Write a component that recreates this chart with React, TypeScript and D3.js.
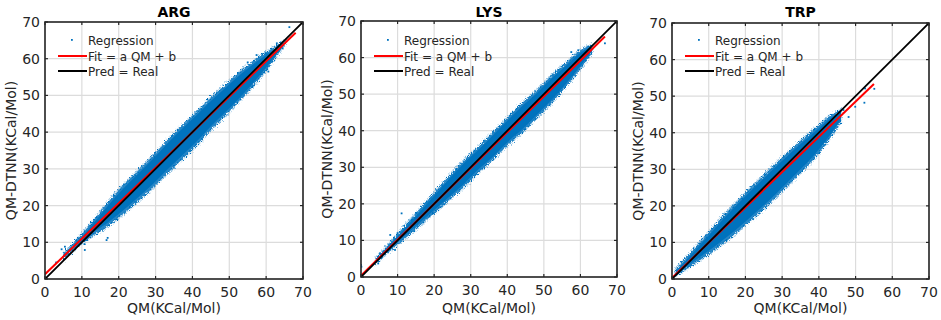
import React from 'react';
import * as d3 from 'd3';

// ---------- data ----------
const titles = ['ARG', 'LYS', 'TRP'];
const tickValues = [0, 10, 20, 30, 40, 50, 60, 70];
const legendLabels = ['Regression', 'Fit = a QM + b', 'Pred = Real'];
const xLabel = 'QM(KCal/Mol)';
const yLabel = 'QM-DTNN(KCal/Mol)';

// linear fit  Pred = a*QM + b
const fitA = [0.967, 0.98, 0.964];
const fitB = [1.3, 0.4, 0.3];
const fitXMax = [68, 66.7, 55];

// ARG scatter cloud envelope (outer = sparse edge, core = dense body)
const argQM = [5, 9, 13, 17, 21, 25, 29, 33, 37, 41, 45, 49, 53, 57, 61, 65];
const argOuterHi = [6.8, 11.0, 15.8, 20.8, 25.3, 29.3, 33.3, 37.6, 41.6, 45.4, 49.4, 53, 56.6, 59.8, 62.4, 65];
const argOuterLo = [5.4, 8.9, 11.8, 14.3, 17.5, 21, 24.6, 28.6, 32.4, 36.3, 40.6, 44.6, 48.8, 53.2, 58.2, 63.8];
const argCoreHi = [6.3, 10.4, 15, 19.9, 24.4, 28.4, 32.4, 36.7, 40.7, 44.5, 48.5, 52.1, 55.7, 58.9, 61.7, 64.5];
const argCoreLo = [5.9, 9.5, 12.6, 15.3, 18.5, 22, 25.6, 29.6, 33.4, 37.3, 41.6, 45.5, 49.6, 54, 58.9, 64];
const argOutliers = [[0.3, 1.6], [3, 4.5], [4.5, 8.1], [5.4, 8.8], [6.6, 7.9], [8.5, 10.5], [9, 11.1], [10.8, 7.9], [10.7, 9.5], [16.7, 10.6], [17, 11.2], [66.3, 68.6], [62.9, 64.2], [60.1, 61.2], [60.6, 56.5], [57.4, 61], [58.5, 59.5], [55, 59]];

// LYS scatter cloud envelope
const lysQM = [4, 8, 12, 16, 20, 24, 28, 32, 36, 40, 44, 48, 52, 56, 60, 63];
const lysOuterHi = [5, 9.5, 14, 18.5, 23, 27.5, 31.8, 35.5, 39.5, 43.5, 47.5, 51, 55, 58.5, 62, 63.5];
const lysOuterLo = [3.8, 7.2, 10.5, 14, 17.5, 21, 24.5, 28.5, 32, 36, 39.5, 43.5, 47.5, 52, 57, 61];
const lysCoreHi = [4.7, 9, 13.3, 17.7, 22.2, 26.7, 31, 34.7, 38.7, 42.7, 46.7, 50.2, 54.2, 57.7, 61.3, 63];
const lysCoreLo = [4.1, 7.8, 11.2, 14.8, 18.3, 21.8, 25.3, 29.3, 32.8, 36.8, 40.3, 44.3, 48.3, 52.8, 57.7, 61.5];
const lysOutliers = [[0.1, 2.8], [0, 3.3], [4.7, 3.7], [5.2, 6.5], [9.3, 7.4], [9.3, 9.7], [11.1, 17.4], [8, 11.5], [10, 12], [66.7, 63.9], [59.4, 62], [57.5, 61.5]];

// TRP scatter cloud envelope
const trpQM = [1, 4, 7, 10, 13, 16, 19, 22, 25, 28, 31, 34, 37, 40, 43, 46];
const trpOuterHi = [2.5, 6, 9.4, 12.8, 16.2, 19.4, 22.5, 25.5, 28.4, 31.3, 34.1, 36.9, 39.5, 42.1, 44.6, 46.2];
const trpOuterLo = [0.8, 2.8, 4.8, 6.8, 9, 11.3, 13.8, 16.5, 19.2, 22, 25, 28, 31, 34.5, 38.5, 43];
const trpCoreHi = [2.0, 5.3, 8.6, 11.9, 15.3, 18.5, 21.6, 24.6, 27.5, 30.4, 33.2, 36, 38.6, 41.2, 43.9, 45.8];
const trpCoreLo = [1.1, 3.4, 5.6, 7.7, 10, 12.3, 14.8, 17.5, 20.2, 23, 26, 29, 32, 35.4, 39.3, 43.6];
const trpOutliers = [[55.1, 52], [52.6, 52.1], [52.4, 48.2], [49.9, 47.1], [46.7, 46.2], [48.1, 44.3]];

const clouds = [
  { qm: argQM, oHi: argOuterHi, oLo: argOuterLo, cHi: argCoreHi, cLo: argCoreLo, out: argOutliers },
  { qm: lysQM, oHi: lysOuterHi, oLo: lysOuterLo, cHi: lysCoreHi, cLo: lysCoreLo, out: lysOutliers },
  { qm: trpQM, oHi: trpOuterHi, oLo: trpOuterLo, cHi: trpCoreHi, cLo: trpCoreLo, out: trpOutliers },
];

// ---------- layout ----------
const W = 941;
const H = 320;
const frames = [
  { x0: 45, x1: 303, y0: 22, y1: 279 },
  { x0: 361, x1: 617, y0: 21, y1: 277 },
  { x0: 672, x1: 929, y0: 23, y1: 279 },
];
const FONT = 'DejaVu Sans';
const BLUE = '#0072BD';
const TXT = '#262626';

function Panel({ i }: { i: number }) {
  const f = frames[i];
  const c = clouds[i];
  const x = d3.scaleLinear().domain([0, 70]).range([f.x0, f.x1]);
  const y = d3.scaleLinear().domain([0, 70]).range([f.y1, f.y0]);
  const idx = d3.range(c.qm.length);
  const outer = d3.area<number>().x((k) => x(c.qm[k])).y0((k) => y(c.oLo[k])).y1((k) => y(c.oHi[k])).curve(d3.curveMonotoneX);
  const core = d3.area<number>().x((k) => x(c.qm[k])).y0((k) => y(c.cLo[k])).y1((k) => y(c.cHi[k])).curve(d3.curveMonotoneX);
  const line = d3.line<[number, number]>().x((d) => x(d[0])).y((d) => y(d[1]));
  const fitPts: [number, number][] = [[0, fitB[i]], [fitXMax[i], fitA[i] * fitXMax[i] + fitB[i]]];
  const idPts: [number, number][] = [[0, 0], [70, 70]];
  const clipId = `clip${i}`;
  const tl = 3;
  const lx = f.x0;
  return (
    <g>
      <defs>
        <clipPath id={clipId}>
          <rect x={f.x0} y={f.y0} width={f.x1 - f.x0} height={f.y1 - f.y0} />
        </clipPath>
      </defs>
      <rect x={f.x0} y={f.y0} width={f.x1 - f.x0} height={f.y1 - f.y0} fill="#fff" />
      {tickValues.map((t) => (
        <g key={t}>
          <line x1={x(t)} x2={x(t)} y1={f.y0} y2={f.y1} stroke="#dcdcdc" strokeWidth={1.2} />
          <line x1={f.x0} x2={f.x1} y1={y(t)} y2={y(t)} stroke="#dcdcdc" strokeWidth={1.2} />
        </g>
      ))}
      <g clipPath={`url(#${clipId})`}>
        <path d={outer(idx) || ''} fill="none" stroke="url(#speckle)" strokeWidth={3} filter="url(#rough)" />
        <path d={outer(idx) || ''} fill={BLUE} fillOpacity={0.85} filter="url(#rough)" />
        <path d={core(idx) || ''} fill={BLUE} />
        {c.out.map((p, k) => (
          <rect key={k} x={x(p[0]) - 0.9} y={y(p[1]) - 0.9} width={1.8} height={1.8} fill={BLUE} />
        ))}
        <path d={line(fitPts) || ''} stroke="#ff0000" strokeWidth={2} fill="none" />
        <path d={line(idPts) || ''} stroke="#000" strokeWidth={1.8} fill="none" />
      </g>
      <rect x={lx + 26} y={39} width={1.8} height={1.8} fill={BLUE} />
      <text x={lx + 43} y={44.5} fontSize={12} fill={TXT} fontFamily={FONT}>{legendLabels[0]}</text>
      <line x1={lx + 13} x2={lx + 42} y1={56} y2={56} stroke="#ff0000" strokeWidth={2} />
      <text x={lx + 43} y={60.5} fontSize={12} fill={TXT} fontFamily={FONT}>{legendLabels[1]}</text>
      <line x1={lx + 13} x2={lx + 42} y1={71} y2={71} stroke="#000" strokeWidth={2} />
      <text x={lx + 43} y={75.5} fontSize={12} fill={TXT} fontFamily={FONT}>{legendLabels[2]}</text>
      <rect x={f.x0} y={f.y0} width={f.x1 - f.x0} height={f.y1 - f.y0} fill="none" stroke={TXT} strokeWidth={1.6} />
      {tickValues.map((t) => (
        <g key={'t' + t}>
          <line x1={x(t)} x2={x(t)} y1={f.y1} y2={f.y1 - tl} stroke={TXT} strokeWidth={1.2} />
          <line x1={x(t)} x2={x(t)} y1={f.y0} y2={f.y0 + tl} stroke={TXT} strokeWidth={1.2} />
          <line x1={f.x0} x2={f.x0 + tl} y1={y(t)} y2={y(t)} stroke={TXT} strokeWidth={1.2} />
          <line x1={f.x1} x2={f.x1 - tl} y1={y(t)} y2={y(t)} stroke={TXT} strokeWidth={1.2} />
          <text x={x(t)} y={f.y1 + 18} textAnchor="middle" fontSize={14} fill={TXT} fontFamily={FONT}>{t}</text>
          <text x={f.x0 - 5} y={y(t) + 5} textAnchor="end" fontSize={14} fill={TXT} fontFamily={FONT}>{t}</text>
        </g>
      ))}
      <text x={(f.x0 + f.x1) / 2} y={17} textAnchor="middle" fontSize={14} fontWeight="bold" fill="#000" fontFamily={FONT}>{titles[i]}</text>
      <text x={(f.x0 + f.x1) / 2} y={313} textAnchor="middle" fontSize={14} fill={TXT} fontFamily={FONT}>{xLabel}</text>
      <text transform={`translate(${f.x0 - 29},${(f.y0 + f.y1) / 2}) rotate(-90)`} textAnchor="middle" fontSize={14} fill={TXT} fontFamily={FONT}>{yLabel}</text>
    </g>
  );
}

export default function App() {
  return (
    <svg width={W} height={H} style={{ position: 'absolute', left: 0, top: 0, background: '#fff' }}>
      <defs>
        <pattern id="speckle" width={3} height={3} patternUnits="userSpaceOnUse">
          <rect x={0} y={0} width={1.4} height={1.4} fill={BLUE} />
          <rect x={1.6} y={1.6} width={1} height={1} fill={BLUE} fillOpacity={0.6} />
        </pattern>
        <filter id="rough" x="-10%" y="-10%" width="120%" height="120%">
          <feTurbulence type="fractalNoise" baseFrequency="0.9" numOctaves={1} seed={3} result="n" />
          <feDisplacementMap in="SourceGraphic" in2="n" scale={5} xChannelSelector="R" yChannelSelector="G" />
        </filter>
      </defs>
      <rect width={W} height={H} fill="#fff" />
      {[0, 1, 2].map((i) => <Panel key={i} i={i} />)}
    </svg>
  );
}
